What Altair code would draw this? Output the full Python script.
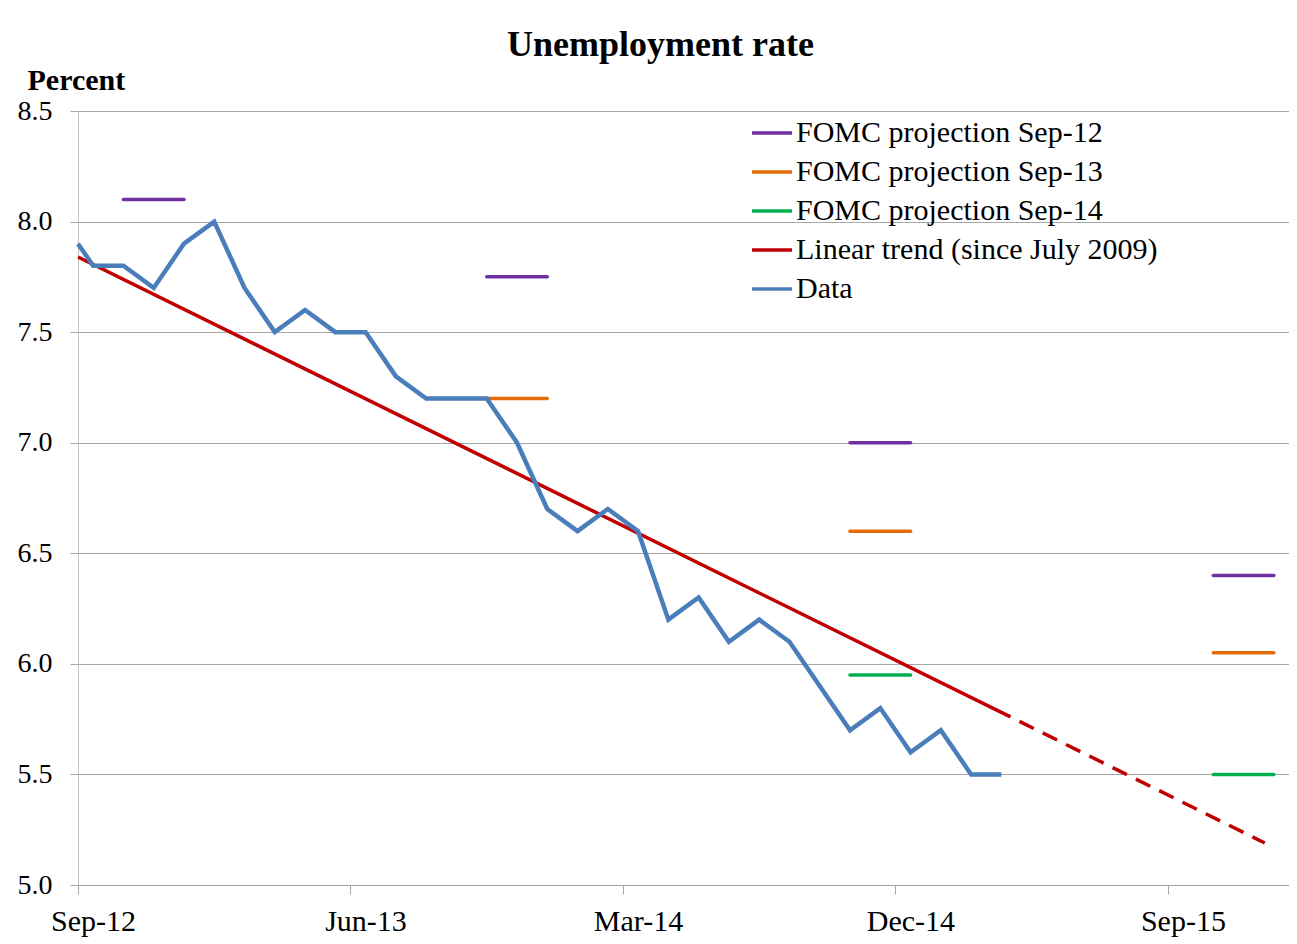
import altair as alt
import pandas as pd

# ---- x axis (months counted from Sep-12) ----
tick_months = [0, 9, 18, 27, 36]
tick_labels = ["Sep-12", "Jun-13", "Mar-14", "Dec-14", "Sep-15"]
y_ticks = [5.0, 5.5, 6.0, 6.5, 7.0, 7.5, 8.0, 8.5]

# ---- monthly unemployment rate, Sep-12 ... Mar-15 ----
data_edge_value = 7.9          # value where the line meets the left axis
data_values = [7.8, 7.8, 7.7, 7.9, 8.0, 7.7, 7.5, 7.6, 7.5, 7.5, 7.3, 7.2,
               7.2, 7.2, 7.0, 6.7, 6.6, 6.7, 6.6, 6.2, 6.3, 6.1, 6.2, 6.1,
               5.9, 5.7, 5.8, 5.6, 5.7, 5.5, 5.5]

# ---- linear trend (since July 2009) ----
trend_months = [0, 30.8]
trend_values = [7.84, 5.76]
trend_proj_months = [30.8, 39.2]
trend_proj_values = [5.76, 5.19]

# ---- FOMC Q4 projections ----
fomc_years = [2012, 2013, 2014, 2015]
fomc_sep12 = [8.1, 7.75, 7.0, 6.4]
fomc_sep13 = [None, 7.2, 6.6, 6.05]
fomc_sep14 = [None, None, 5.95, 5.5]

series_names = ["FOMC projection Sep-12", "FOMC projection Sep-13",
                "FOMC projection Sep-14", "Linear trend (since July 2009)", "Data"]
series_colors = ["#7030A0", "#E46C0A", "#00B050", "#C00000", "#4A7EBB"]

# ---- build tables ----
rows = []
for name, vals in zip(series_names[:3], [fomc_sep12, fomc_sep13, fomc_sep14]):
    for yr, v in zip(fomc_years, vals):
        if v is None:
            continue
        start = (yr - 2012) * 12 + 1.5   # Oct of that year (mid-month)
        seg = f"{name}-{yr}"
        rows.append({"series": name, "seg": seg, "m": start, "v": v})
        rows.append({"series": name, "seg": seg, "m": start + 2, "v": v})
fomc_df = pd.DataFrame(rows)

trend_df = pd.DataFrame({"series": series_names[3], "m": trend_months, "v": trend_values})
proj_df = pd.DataFrame({"series": series_names[3], "m": trend_proj_months, "v": trend_proj_values})

data_df = pd.DataFrame({
    "series": series_names[4],
    "m": [0] + [i + 0.5 for i in range(len(data_values))],
    "v": [data_edge_value] + data_values,
})

label_expr = " : ".join(f"datum.value == {m} ? '{l}'" for m, l in zip(tick_months, tick_labels)) + " : ''"

FONT = "Liberation Serif"
GRID = "#A6A6A6"

x_enc = alt.X("m:Q",
              scale=alt.Scale(domain=[0, 40], nice=False, zero=False),
              axis=alt.Axis(values=tick_months, labelExpr=label_expr, grid=False,
                            domainColor=GRID, tickColor=GRID, tickSize=9,
                            labelFont=FONT, labelFontSize=30, labelColor="black",
                            labelPadding=12, labelOffset=15, labelFlush=False,
                            labelOverlap=False),
              title=None)
y_enc = alt.Y("v:Q",
              scale=alt.Scale(domain=[5, 8.5], nice=False, zero=False),
              axis=alt.Axis(values=y_ticks, format=".1f", grid=True, gridColor=GRID,
                            domainColor="#BFBFBF", tickColor=GRID, tickSize=8,
                            labelFont=FONT, labelFontSize=28, labelColor="black",
                            labelPadding=18, labelFlush=False,
                            title="Percent", titleAngle=0, titleX=-51, titleY=-22,
                            titleAlign="left", titleBaseline="alphabetic",
                            titleFont=FONT, titleFontSize=30, titleFontWeight="bold",
                            titleColor="black"),
              title="Percent")
color_enc = alt.Color("series:N",
                      scale=alt.Scale(domain=series_names, range=series_colors),
                      legend=alt.Legend(title=None, orient="none", legendX=672, legendY=0,
                                        direction="vertical", symbolType="stroke",
                                        symbolSize=1600, symbolStrokeWidth=3.5,
                                        labelFont=FONT, labelFontSize=30, labelColor="black",
                                        labelOffset=2, labelLimit=700, rowPadding=2,
                                        padding=0))

fomc = alt.Chart(fomc_df).mark_line(strokeWidth=3.5, strokeCap="round").encode(
    x=x_enc, y=y_enc, color=color_enc, detail="seg:N")
trend = alt.Chart(trend_df).mark_line(strokeWidth=3.5).encode(x=x_enc, y=y_enc, color=color_enc)
proj = alt.Chart(proj_df).mark_line(strokeWidth=3.5, strokeDash=[16, 10], strokeDashOffset=16).encode(
    x=x_enc, y=y_enc, color=color_enc)
data = alt.Chart(data_df).mark_line(strokeWidth=4.5, strokeJoin="miter").encode(
    x=x_enc, y=y_enc, color=color_enc)

chart = alt.layer(fomc, trend, proj, data).properties(
    width=1211, height=774,
    padding={"left": 70, "top": 103, "right": 0, "bottom": 54},
    autosize=alt.AutoSizeParams(type="none"),
    title=alt.TitleParams("Unemployment rate", font=FONT, fontSize=36, fontWeight="bold",
                          color="black", anchor="middle", frame="group", dx=-23, dy=3),
).configure_view(stroke=None).configure(background="white")

chart.save("out.html", embed_options={"renderer": "svg", "actions": False})
